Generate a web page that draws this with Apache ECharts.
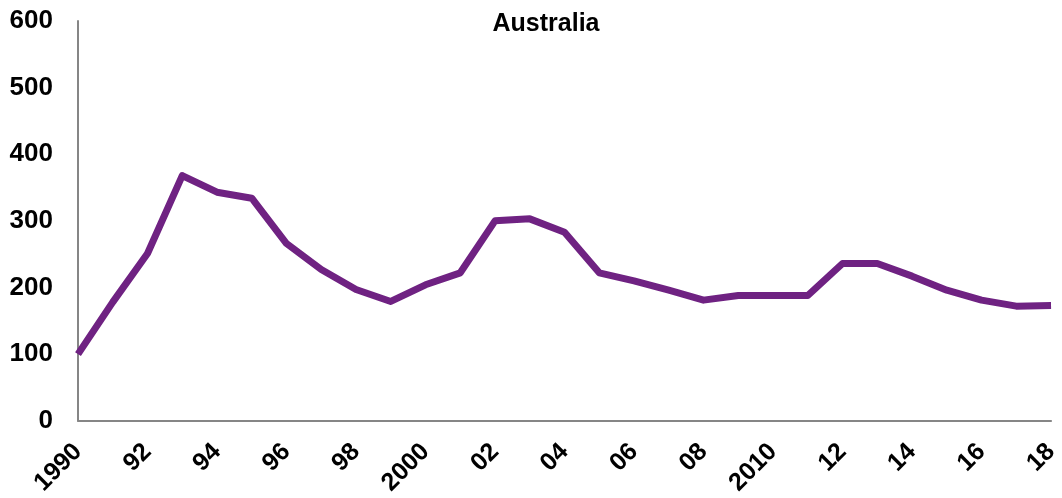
<!DOCTYPE html>
<html>
<head>
<meta charset="utf-8">
<script src="https://cdn.jsdelivr.net/npm/echarts@6/dist/echarts.min.js"></script>
<style>
  html, body { margin: 0; padding: 0; background: #fff; }
  #chartLineBox { width: 1062px; height: 498px; }
</style>
</head>
<body>
<div id="chartLineBox"></div>
<script>
// years 1990 - 2018
var years = ["1990", "1991", "1992", "1993", "1994", "1995", "1996", "1997", "1998", "1999",
  "2000", "2001", "2002", "2003", "2004", "2005", "2006", "2007", "2008", "2009",
  "2010", "2011", "2012", "2013", "2014", "2015", "2016", "2017", "2018"];
// labels shown under the axis (every second year)
var tickLabels = ["1990", "", "92", "", "94", "", "96", "", "98", "",
  "2000", "", "02", "", "04", "", "06", "", "08", "",
  "2010", "", "12", "", "14", "", "16", "", "18"];
var values = [100, 178, 251, 368, 343, 334, 266, 227, 197, 179,
  204, 222, 300, 303, 283, 222, 210, 196, 181, 188,
  188, 188, 236, 236, 217, 196, 181, 172, 173];

var chartLine = echarts.init(document.getElementById("chartLineBox"));

var fontName = "Liberation Sans, Arial, sans-serif";

var option = {
  animation: false,
  title: {
    text: "Australia",
    left: 541,
    top: 7,
    textAlign: "center",
    textStyle: {
      fontFamily: fontName,
      fontWeight: "bold",
      fontSize: 25,
      color: "#000"
    }
  },
  grid: {
    left: 78,
    right: 7,
    top: 21,
    bottom: 77
  },
  xAxis: {
    type: "category",
    data: years,
    boundaryGap: false,
    axisLine: { lineStyle: { color: "#868686", width: 2 } },
    axisTick: { show: false },
    axisLabel: {
      interval: 1,
      rotate: 45,
      margin: 27,
      fontFamily: fontName,
      fontWeight: "bold",
      fontSize: 25,
      color: "#000",
      formatter: function (v, i) { return tickLabels[i]; }
    }
  },
  yAxis: {
    type: "value",
    min: 0,
    max: 600,
    interval: 100,
    axisLine: { show: true, lineStyle: { color: "#868686", width: 2 } },
    axisTick: { show: false },
    splitLine: { show: false },
    axisLabel: {
      margin: 25,
      fontFamily: fontName,
      fontWeight: "bold",
      fontSize: 26,
      color: "#000"
    }
  },
  series: [
    {
      name: "Australia",
      type: "line",
      data: values,
      symbol: "none",
      lineStyle: { color: "#6F2282", width: 7, join: "round" },
      itemStyle: { color: "#6F2282" }
    }
  ]
};

chartLine.setOption(option);
</script>
</body>
</html>
